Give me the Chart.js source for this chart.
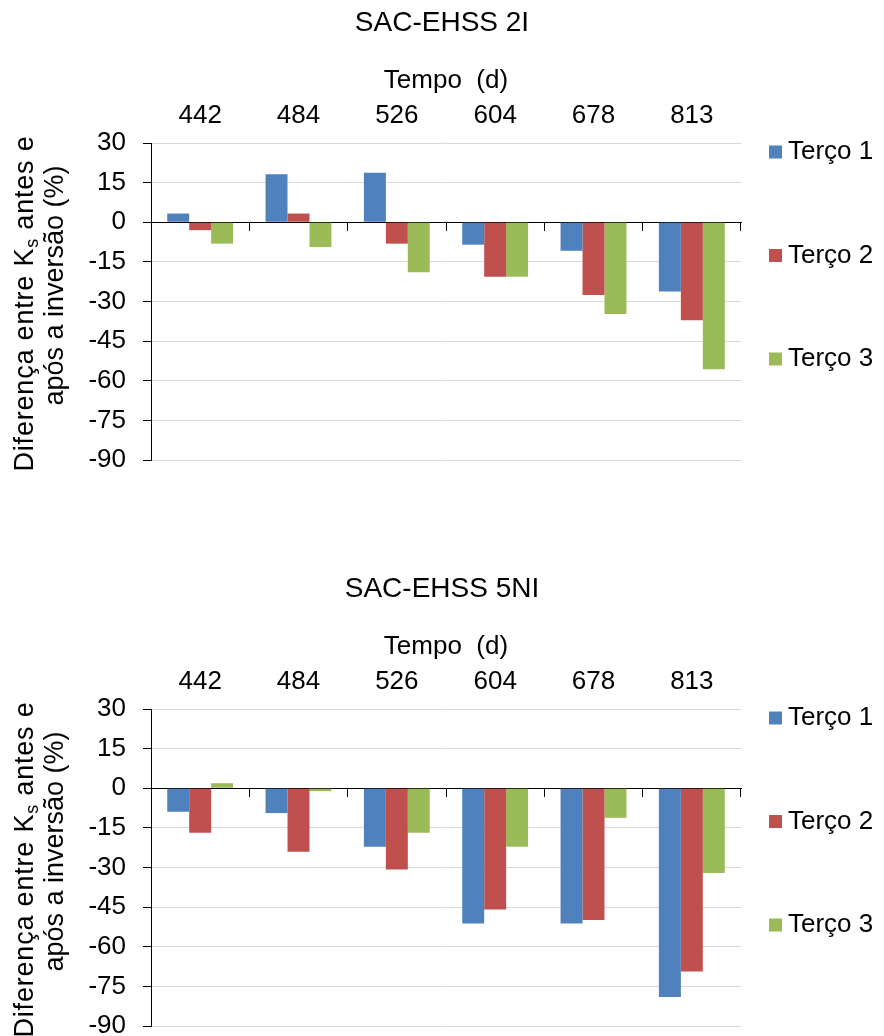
<!DOCTYPE html>
<html lang="pt">
<head>
  <meta charset="UTF-8" />
  <title>SAC-EHSS - Diferença entre Ks antes e após a inversão</title>
  <script src="https://cdn.jsdelivr.net/npm/chart.js"></script>
  <style>
    body {
      margin: 0;
      background: #fff;
      overflow: hidden;
    }
    .painel {
      position: absolute;
      left: 0;
      width: 884px;
      height: 566px;
    }
    #painel1 { top: 0; }
    #painel2 { top: 566px; }
  </style>
</head>
<body>
  <div class="painel" id="painel1"><canvas id="grafico1" width="884" height="566"></canvas></div>
  <div class="painel" id="painel2"><canvas id="grafico2" width="884" height="566"></canvas></div>

  <script>
    // Dados
    const tempos = ['442', '484', '526', '604', '678', '813'];
    const series = ['Terço 1', 'Terço 2', 'Terço 3'];
    const cores = ['#4F81BD', '#C0504D', '#9BBB59'];
    const yTicks = [30, 15, 0, -15, -30, -45, -60, -75, -90];

    // SAC-EHSS 2I
    const ehss2I_t1 = [3.3, 18.2, 18.7, -8.5, -10.8, -26.2];
    const ehss2I_t2 = [-3.0, 3.3, -8.1, -20.6, -27.5, -37.1];
    const ehss2I_t3 = [-8.1, -9.4, -18.9, -20.6, -34.7, -55.6];

    // SAC-EHSS 5NI
    const ehss5NI_t1 = [-8.9, -9.4, -22.1, -51.2, -51.2, -79.0];
    const ehss5NI_t2 = [-16.8, -24.0, -30.8, -45.9, -49.9, -69.4];
    const ehss5NI_t3 = [1.9, -1.1, -16.8, -22.1, -11.2, -32.1];

    const fonte = 'Arial, "Liberation Sans", sans-serif';

    // titulo do eixo y com subscrito (Ks)
    const tituloY = {
      id: 'tituloY',
      afterDraw(chart) {
        const ctx = chart.ctx;
        const meio = (chart.chartArea.top + chart.chartArea.bottom) / 2;
        const grande = '27px ' + fonte;
        const pequena = '18px ' + fonte;
        const partes = [
          ['Diferença entre K', grande, 0],
          ['s', pequena, 5],
          [' antes e', grande, 0]
        ];
        ctx.save();
        ctx.fillStyle = '#000';
        ctx.textBaseline = 'alphabetic';
        ctx.textAlign = 'left';
        ctx.letterSpacing = '0.8px';
        let largura = 0;
        partes.forEach(p => { ctx.font = p[1]; p[3] = ctx.measureText(p[0]).width; largura += p[3]; });
        ctx.translate(33, meio + 2);
        ctx.rotate(-Math.PI / 2);
        let x = -largura / 2;
        partes.forEach(p => { ctx.font = p[1]; ctx.fillText(p[0], x, p[2]); x += p[3]; });
        ctx.restore();

        ctx.save();
        ctx.fillStyle = '#000';
        ctx.font = grande;
        ctx.textAlign = 'center';
        ctx.textBaseline = 'alphabetic';
        ctx.translate(63, meio - 16);
        ctx.rotate(-Math.PI / 2);
        ctx.fillText('após a inversão (%)', 0, 0);
        ctx.restore();
      }
    };

    // legenda ao lado, espaçada como no original
    const legendaLateral = {
      id: 'legendaLateral',
      afterDraw(chart) {
        const ctx = chart.ctx;
        const x0 = chart.chartArea.right + 28;
        ctx.save();
        ctx.font = '26px ' + fonte;
        ctx.textBaseline = 'middle';
        chart.data.datasets.forEach((ds, i) => {
          const y = chart.chartArea.top + 9 + i * 103.5;
          ctx.fillStyle = ds.backgroundColor;
          ctx.fillRect(x0, y - 6.5, 13, 13);
          ctx.fillStyle = '#000';
          ctx.fillText(ds.label, x0 + 19, y);
        });
        ctx.restore();
      }
    };

    function criarGrafico(id, titulo, valores) {
      return new Chart(document.getElementById(id), {
        type: 'bar',
        data: {
          labels: tempos,
          datasets: series.map((nome, i) => ({
            label: nome,
            data: valores[i],
            backgroundColor: cores[i],
            borderWidth: 0,
            categoryPercentage: 0.67,
            barPercentage: 1.0,
            xAxisID: 'x',
            yAxisID: 'y'
          }))
        },
        options: {
          responsive: false,
          animation: false,
          layout: { padding: { left: 0, right: 0, top: 0, bottom: 106 } },
          plugins: {
            legend: { display: false },
            tooltip: { enabled: false },
            title: {
              display: true,
              text: titulo,
              color: '#000',
              font: { family: fonte, size: 28, weight: 'normal', lineHeight: 1.2 },
              padding: { top: 6.2, bottom: 0 }
            }
          },
          scales: {
            x: {
              position: 'top',
              grid: { display: false, drawTicks: false },
              border: { display: false },
              ticks: { color: '#000', font: { family: fonte, size: 26 }, padding: 11.4, maxRotation: 0 },
              title: {
                display: true,
                text: 'Tempo  (d)',
                color: '#000',
                font: { family: fonte, size: 26 },
                padding: { top: 25.1, bottom: 0 }
              },
              afterFit(s) { s.height = 103.2; }
            },
            xZero: {
              type: 'category',
              axis: 'x',
              labels: tempos,
              position: { y: 0 },
              offset: true,
              z: 1,
              grid: { offset: true, drawOnChartArea: false, tickLength: 8, tickColor: '#000' },
              border: { color: '#000', width: 1 },
              ticks: { display: false }
            },
            y: {
              min: -90,
              max: 30,
              grid: { color: '#d9d9d9', tickColor: '#000', tickLength: 8 },
              border: { color: '#000' },
              ticks: { stepSize: 15, color: '#000', font: { family: fonte, size: 26 }, padding: 17 },
              afterBuildTicks(s) { s.ticks = yTicks.map(v => ({ value: v })); },
              afterFit(s) { s.width = 151; }
            },
            // espaço reservado para a legenda lateral
            yLegenda: {
              type: 'linear',
              axis: 'y',
              position: 'right',
              grid: { display: false, drawTicks: false },
              border: { display: false },
              ticks: { display: false },
              afterFit(s) { s.width = 143; }
            }
          }
        },
        plugins: [tituloY, legendaLateral]
      });
    }

    criarGrafico('grafico1', 'SAC-EHSS 2I', [ehss2I_t1, ehss2I_t2, ehss2I_t3]);
    criarGrafico('grafico2', 'SAC-EHSS 5NI', [ehss5NI_t1, ehss5NI_t2, ehss5NI_t3]);
  </script>
</body>
</html>
